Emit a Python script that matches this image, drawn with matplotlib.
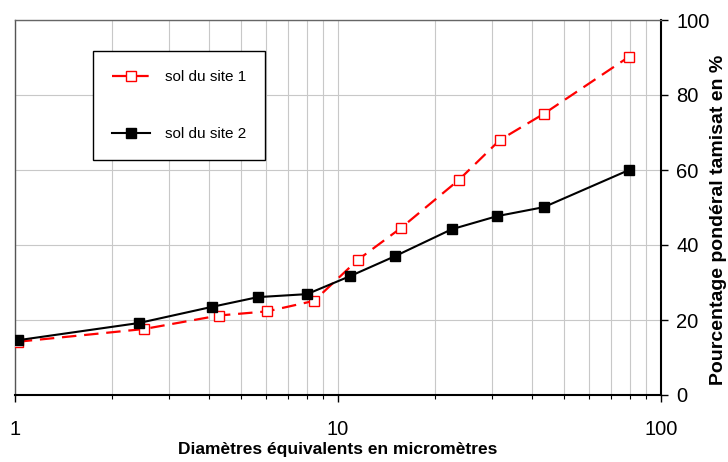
import matplotlib.pyplot as plt
from matplotlib.ticker import LogLocator, NullFormatter, FixedLocator

plt.rcParams['font.family'] = ['Liberation Sans', 'DejaVu Sans']

# Données
diam_site1 = [1.02, 2.51, 4.28, 6.03, 8.43, 11.5, 15.7, 23.7, 31.7, 43.4, 79.6]
pct_site1 = [14.2, 17.6, 21.2, 22.3, 25.1, 36.0, 44.6, 57.4, 68.0, 75.0, 90.2]

diam_site2 = [1.02, 2.42, 4.07, 5.65, 8.02, 10.9, 15.0, 22.5, 31.1, 43.4, 79.6]
pct_site2 = [14.6, 19.2, 23.5, 26.1, 26.9, 31.7, 37.0, 44.2, 47.7, 50.1, 60.0]

labels = ['sol du site 1', 'sol du site 2']

fig = plt.figure(figsize=(7.28, 4.62), dpi=100)
ax = fig.add_axes([15 / 728, 67 / 462, 646 / 728, 375 / 462])

ax.plot(diam_site1, pct_site1, color='red', lw=1.6, ls=(0, (6.5, 3.5)),
        marker='s', ms=7, mfc='white', mec='red', mew=1.0, label=labels[0], zorder=3)
ax.plot(diam_site2, pct_site2, color='black', lw=1.5,
        marker='s', ms=6.5, mfc='black', mec='black', label=labels[1], zorder=4)

ax.set_xscale('log')
ax.set_xlim(1, 100)
ax.set_ylim(0, 100)

ax.xaxis.set_major_locator(FixedLocator([1, 10, 100]))
ax.set_xticklabels(['1', '10', '100'])
ax.xaxis.set_minor_locator(LogLocator(base=10, subs=range(2, 10)))
ax.xaxis.set_minor_formatter(NullFormatter())
ax.set_yticks([0, 20, 40, 60, 80, 100])

ax.yaxis.tick_right()
ax.yaxis.set_label_position('right')
ax.tick_params(axis='x', which='major', length=5, width=1, pad=13, labelsize=14.5, direction='out')
ax.tick_params(axis='x', which='minor', length=3, width=0.8, direction='out')
ax.tick_params(axis='y', which='major', length=5, width=1, pad=6, labelsize=14.5, direction='out')

ax.grid(True, which='both', axis='x', color='#c8c8c8', lw=0.8)
ax.grid(True, which='major', axis='y', color='#c8c8c8', lw=0.8)
ax.set_axisbelow(True)

ax.spines['left'].set_color('#555555')
ax.spines['left'].set_linewidth(1)
ax.spines['top'].set_color('#666666')
ax.spines['top'].set_linewidth(1)
ax.spines['right'].set_linewidth(1.5)
ax.spines['bottom'].set_linewidth(1.5)

ax.set_xlabel('Diamètres équivalents en micromètres', fontsize=12.5, fontweight='bold', labelpad=2)
ax.set_ylabel('Pourcentage pondéral tamisat en %', fontsize=14, fontweight='bold')
ax.yaxis.set_label_coords((710 - 15) / 646, 0.467)

leg = ax.legend(loc='upper left', bbox_to_anchor=(78 / 646, 1 - 31 / 375),
                fontsize=11, frameon=True, fancybox=False, edgecolor='black',
                framealpha=1, labelspacing=2.8, borderpad=1.25, handlelength=2.5,
                handletextpad=0.95, borderaxespad=0)
leg.get_frame().set_linewidth(1)

fig.savefig('out.png', dpi=100)
